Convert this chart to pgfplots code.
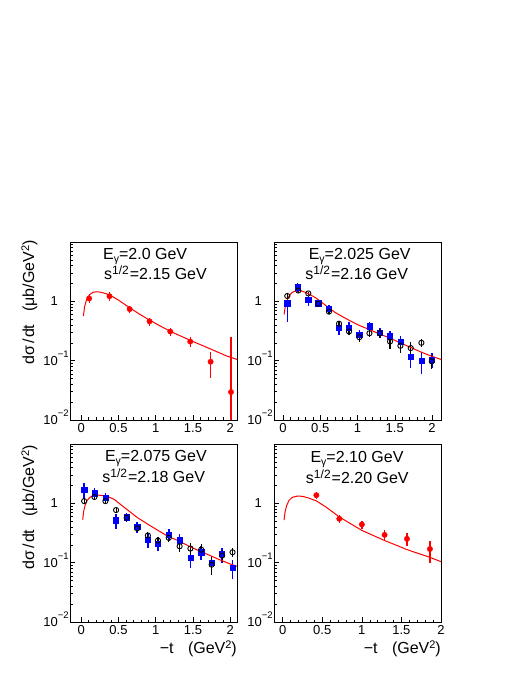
\documentclass[border=0pt]{standalone}
\usepackage{fontspec}
\setmainfont{Liberation Sans}
\usepackage{pgfplots}
\usepackage{pgfplotstable}
\pgfplotsset{compat=1.18}
\definecolor{rootred}{RGB}{255,0,0}
\definecolor{rootblue}{RGB}{0,0,255}
\newcommand{\tf}{\fontsize{13}{13}\selectfont}
\newcommand{\ttf}{\fontsize{16}{16}\selectfont}
\newcommand{\ex}[1]{\rlap{\smash{\raisebox{7.5pt}{\fontsize{9.5}{9.5}\selectfont #1}}}}
\newcommand{\sub}[1]{\raisebox{-3pt}{\fontsize{10.5}{10.5}\selectfont #1}}
\newcommand{\sups}[1]{\raisebox{5pt}{\fontsize{12}{12}\selectfont #1}}
\newcommand{\supt}[1]{\smash{\raisebox{5pt}{\fontsize{11}{11}\selectfont #1}}}

% ---------- data ----------
\pgfplotstableread{
t y ep em
0.107 1.12 0.20 0.20
0.38 1.22 0.20 0.20
0.65 0.74 0.11 0.11
0.917 0.46 0.07 0.07
1.195 0.31 0.05 0.05
1.463 0.21 0.04 0.04
1.736 0.096 0.044 0.044
2.01 0.0296 0.22 0.0295
}\tlred
\pgfplotstableread{
t y
0.03 0.57
0.045 0.80
0.065 1.0
0.09 1.18
0.12 1.32
0.16 1.42
0.21 1.45
0.27 1.42
0.33 1.35
0.40 1.24
0.50 1.05
0.60 0.86
0.70 0.71
0.80 0.59
0.92 0.48
1.05 0.39
1.20 0.31
1.35 0.255
1.50 0.21
1.65 0.175
1.80 0.145
1.95 0.12
2.09 0.105
}\tlcurve

\pgfplotstableread{
t y ep em
0.058 1.23 0.12 0.12
0.206 1.52 0.12 0.12
0.34 1.36 0.10 0.10
0.474 0.91 0.08 0.08
0.617 0.67 0.06 0.06
0.752 0.42 0.05 0.05
0.886 0.31 0.04 0.04
1.024 0.248 0.04 0.04
1.16 0.29 0.04 0.04
1.30 0.29 0.05 0.05
1.436 0.21 0.05 0.05
1.575 0.178 0.045 0.045
1.714 0.163 0.04 0.04
1.857 0.20 0.03 0.03
1.996 0.0975 0.025 0.025
}\trblack
\pgfplotstableread{
t y ep em
0.058 0.93 0.15 0.48
0.197 1.73 0.30 0.30
0.34 1.05 0.20 0.20
0.474 0.93 0.12 0.12
0.617 0.76 0.12 0.12
0.752 0.355 0.08 0.08
0.886 0.364 0.08 0.08
1.024 0.275 0.05 0.05
1.16 0.38 0.07 0.07
1.30 0.30 0.06 0.06
1.436 0.258 0.06 0.06
1.575 0.207 0.05 0.05
1.714 0.115 0.04 0.04
1.857 0.10 0.04 0.04
1.996 0.105 0.03 0.03
}\trblue
\pgfplotstableread{
t y
0.015 0.60
0.03 0.80
0.05 1.0
0.08 1.22
0.12 1.40
0.18 1.52
0.24 1.50
0.30 1.42
0.36 1.31
0.45 1.12
0.55 0.90
0.61 0.78
0.70 0.65
0.80 0.55
0.90 0.47
1.03 0.39
1.17 0.33
1.30 0.28
1.436 0.24
1.57 0.20
1.705 0.169
1.85 0.14
2.00 0.118
2.13 0.104
}\trcurve

\pgfplotstableread{
t y ep em
0.04 1.09 0.10 0.10
0.178 1.28 0.12 0.12
0.325 1.09 0.10 0.10
0.468 0.77 0.07 0.07
0.61 0.57 0.06 0.06
0.752 0.38 0.05 0.05
0.895 0.287 0.04 0.04
1.03 0.236 0.035 0.035
1.175 0.262 0.04 0.04
1.32 0.189 0.035 0.035
1.465 0.173 0.04 0.04
1.61 0.166 0.04 0.04
1.75 0.0925 0.03 0.03
1.89 0.131 0.03 0.03
2.03 0.15 0.025 0.025
}\blblack
\pgfplotstableread{
t y ep em
0.04 1.68 0.50 0.50
0.178 1.48 0.30 0.30
0.325 1.25 0.25 0.25
0.468 0.52 0.15 0.15
0.61 0.586 0.10 0.10
0.752 0.40 0.08 0.08
0.895 0.245 0.07 0.07
1.03 0.207 0.05 0.05
1.175 0.30 0.07 0.07
1.32 0.24 0.06 0.06
1.465 0.12 0.04 0.04
1.61 0.15 0.04 0.04
1.75 0.101 0.03 0.03
1.89 0.14 0.04 0.04
2.03 0.083 0.03 0.03
}\blblue
\pgfplotstableread{
t y
0.02 0.53
0.035 0.75
0.055 0.95
0.08 1.12
0.12 1.27
0.18 1.38
0.24 1.37
0.30 1.34
0.36 1.30
0.45 1.15
0.54 0.93
0.63 0.76
0.75 0.58
0.90 0.44
1.03 0.35
1.16 0.28
1.30 0.235
1.43 0.194
1.56 0.163
1.70 0.137
1.85 0.113
2.00 0.095
2.09 0.087
}\blcurve

\pgfplotstableread{
t y ep em
0.425 1.37 0.20 0.20
0.715 0.55 0.09 0.09
1.0 0.44 0.07 0.07
1.287 0.294 0.06 0.06
1.57 0.252 0.06 0.06
1.86 0.17 0.065 0.07
}\brred
\pgfplotstableread{
t y
0.017 0.52
0.03 0.72
0.05 0.92
0.08 1.12
0.12 1.26
0.19 1.33
0.25 1.31
0.32 1.24
0.425 1.10
0.55 0.86
0.715 0.59
0.85 0.46
1.0 0.35
1.15 0.285
1.287 0.236
1.43 0.198
1.57 0.166
1.72 0.142
1.86 0.123
2.0 0.104
}\brcurve

\pgfplotsset{
  myframe/.style={
    scale only axis, width=167pt, height=178pt,
    ymin=0.01, ymax=10,
    axis line style={line width=0.6pt},
    tick style={black, line width=0.5pt},
    tick pos=left, tick align=inside,
    major tick length=5pt, minor tick length=2.5pt,
    xtick={0,0.5,1,1.5,2}, xticklabels={0,0.5,1,1.5,2},
    minor x tick num=4,
    ytick={0.01,0.1,1},
    yticklabels={{10\ex{−2}},{10\ex{−1}},{1}},
    minor ytick={0.02,0.03,0.04,0.05,0.06,0.07,0.08,0.09,0.2,0.3,0.4,0.5,0.6,0.7,0.8,0.9,2,3,4,5,6,7,8,9},
    ticklabel style={font=\tf},
    xticklabel style={anchor=north, inner sep=0pt, yshift=-3.5pt},
    yticklabel style={anchor=east, inner sep=0pt, xshift=-12pt},
  },
  redpts/.style={only marks, mark=*, mark size=2.7pt, color=rootred,
    error bars/y dir=both, error bars/y explicit, error bars/error mark=none,
    error bars/error bar style={line width=1.3pt, rootred}},
  bluepts/.style={only marks, mark=square*, mark size=2.6pt, color=rootblue,
    error bars/y dir=both, error bars/y explicit, error bars/error mark=none,
    error bars/error bar style={line width=1.5pt, rootblue}},
  blackpts/.style={only marks, mark=o, mark size=2.6pt, color=black,
    mark options={line width=0.9pt},
    error bars/y dir=both, error bars/y explicit, error bars/error mark=none,
    error bars/error bar style={line width=1.1pt, black}},
  modelcurve/.style={no marks, rootred, line width=1pt},
}

\begin{document}
\begin{tikzpicture}[x=1pt,y=1pt]
\fill[white] (0,0) rectangle (529,684);

% top left
\begin{semilogyaxis}[myframe, at={(70pt,264pt)}, anchor=south west, xmin=-0.15, xmax=2.09]
\addplot[redpts] table[x=t,y=y,y error plus=ep,y error minus=em] {\tlred};
\addplot[modelcurve] table[x=t,y=y] {\tlcurve};
\end{semilogyaxis}

% top right
\begin{semilogyaxis}[myframe, at={(274pt,264pt)}, anchor=south west, xmin=-0.12, xmax=2.12]
\addplot[bluepts] table[x=t,y=y,y error plus=ep,y error minus=em] {\trblue};
\addplot[blackpts] table[x=t,y=y,y error plus=ep,y error minus=em] {\trblack};
\addplot[modelcurve] table[x=t,y=y] {\trcurve};
\end{semilogyaxis}

% bottom left
\begin{semilogyaxis}[myframe, at={(70pt,62pt)}, anchor=south west, xmin=-0.15, xmax=2.09]
\addplot[bluepts] table[x=t,y=y,y error plus=ep,y error minus=em] {\blblue};
\addplot[blackpts] table[x=t,y=y,y error plus=ep,y error minus=em] {\blblack};
\addplot[modelcurve] table[x=t,y=y] {\blcurve};
\end{semilogyaxis}

% bottom right
\begin{semilogyaxis}[myframe, at={(274pt,62pt)}, anchor=south west, xmin=-0.11, xmax=2.0]
\addplot[redpts] table[x=t,y=y,y error plus=ep,y error minus=em] {\brred};
\addplot[modelcurve] table[x=t,y=y] {\brcurve};
\end{semilogyaxis}

% panel texts
\node[anchor=base, inner sep=0pt, font=\ttf] at (145.2,424) {E\sub{γ}=2.0 GeV};
\node[anchor=base, inner sep=0pt, font=\ttf] at (155.5,404) {s\sups{1/2}\kern1pt=2.15 GeV};
\node[anchor=base, inner sep=0pt, font=\ttf] at (359.7,424.5) {E\sub{γ}=2.025 GeV};
\node[anchor=base, inner sep=0pt, font=\ttf] at (356.7,404.5) {s\sups{1/2}\kern1pt=2.16 GeV};
\node[anchor=base, inner sep=0pt, font=\ttf] at (155.9,222.3) {E\sub{γ}=2.075 GeV};
\node[anchor=base, inner sep=0pt, font=\ttf] at (153.7,201.5) {s\sups{1/2}\kern1pt=2.18 GeV};
\node[anchor=base, inner sep=0pt, font=\ttf] at (357,221.7) {E\sub{γ}=2.10 GeV};
\node[anchor=base, inner sep=0pt, font=\ttf] at (357.3,200.5) {s\sups{1/2}\kern1pt=2.20 GeV};

% y labels
\node[rotate=90, anchor=east, inner sep=0pt, font=\ttf] at (30,444) {dσ\kern2pt/\kern1pt dt\hspace{13pt}(μb/GeV\supt{2})};
\node[rotate=90, anchor=east, inner sep=0pt, font=\ttf] at (30,239) {dσ\kern2pt/\kern1pt dt\hspace{13pt}(μb/GeV\supt{2})};

% x labels
\node[anchor=base east, inner sep=0pt, font=\ttf] at (237,30.5) {−t\hspace{0.9em}(GeV\supt{2})};
\node[anchor=base east, inner sep=0pt, font=\ttf] at (441,30.5) {−t\hspace{0.9em}(GeV\supt{2})};
\end{tikzpicture}
\end{document}
